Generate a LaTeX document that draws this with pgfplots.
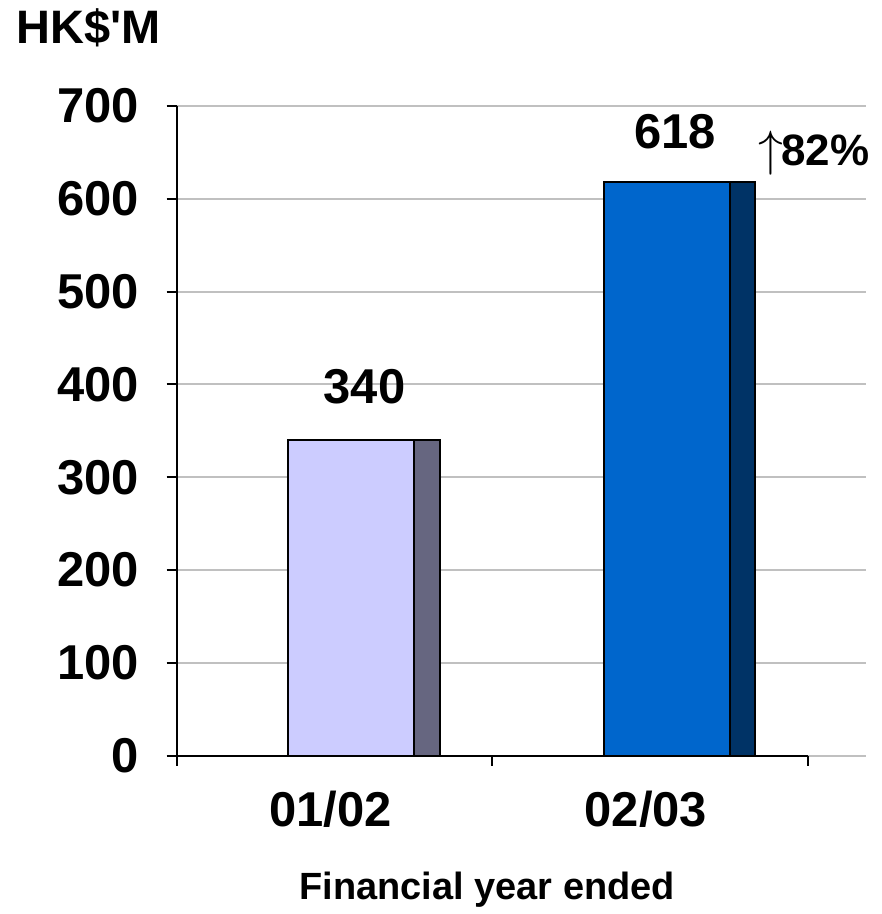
\documentclass[border=0pt]{standalone}
\usepackage{pgfplots}
\pgfplotsset{compat=1.18}
\usepackage{fontspec}
\setmainfont{Liberation Sans}
% same face without TeX ligatures, so that ' stays a straight quote
\newfontfamily\plainsans{Liberation Sans}

\definecolor{lilac}{HTML}{CCCCFF}
\definecolor{lilacside}{HTML}{666680}
\definecolor{royal}{HTML}{0066CC}
\definecolor{royalside}{HTML}{003366}
\definecolor{gridgrey}{HTML}{C0C0C0}

\begin{document}
\begin{tikzpicture}
\begin{axis}[
  scale only axis,
  width=345pt, height=325.5pt,
  xmin=0, xmax=2.184,
  ymin=0, ymax=700,
  axis lines*=left,
  x axis line style={draw=none},
  y axis line style={line width=1pt},
  ytick={0,100,...,700},
  ymajorgrids,
  grid style={gridgrey, line width=1pt},
  tick align=outside,
  major tick length=5pt,
  tick style={black, line width=1pt},
  xtick={0,1,2},
  xticklabels={},
  extra x ticks={0.5,1.5},
  extra x tick labels={01/02,02/03},
  extra x tick style={major tick length=0pt, xticklabel style={yshift=-14pt, xshift=-2pt}},
  ticklabel style={font=\bfseries\fontsize{24.5}{28}\selectfont},
  yticklabel style={xshift=-10.5pt},
  /pgf/number format/assume math mode=true,
  ybar, bar shift=0pt,
  clip=false,
]
% front faces
\addplot[fill=lilac, draw=black, line width=1pt, bar width=0.40] coordinates {(0.553,340)};
\addplot[fill=royal, draw=black, line width=1pt, bar width=0.40] coordinates {(1.553,618)};
% side faces
\addplot[fill=lilacside, draw=black, line width=1pt, bar width=0.08] coordinates {(0.793,340)};
\addplot[fill=royalside, draw=black, line width=1pt, bar width=0.08] coordinates {(1.793,618)};

% category axis line
\draw[black, line width=1pt] (axis cs:0,0) -- (axis cs:2,0);

% value labels
\node[font=\bfseries\fontsize{24.5}{28}\selectfont] at (axis cs:0.595,398) {340};
\node[font=\bfseries\fontsize{24.5}{28}\selectfont] at (axis cs:1.579,672) {618};
\node[font=\bfseries\fontsize{22}{26}\selectfont, inner sep=0pt, anchor=base]
  at (axis cs:2.02,636) {{\fontsize{28}{30}\selectfont$\uparrow$}\kern-1pt82\%};

% titles
\node[font=\plainsans\bfseries\fontsize{23.5}{27}\selectfont] at ([xshift=-44pt, yshift=39pt]rel axis cs:0,1) {HK\$'M};
\node[font=\bfseries\fontsize{19}{23}\selectfont] at ([xshift=155.5pt, yshift=-67pt]rel axis cs:0,0) {Financial year ended};
\end{axis}
% page frame with the white margins round the chart
\path (-88.5pt,-78.5pt) rectangle (353pt,378.5pt);
\end{tikzpicture}
\end{document}
